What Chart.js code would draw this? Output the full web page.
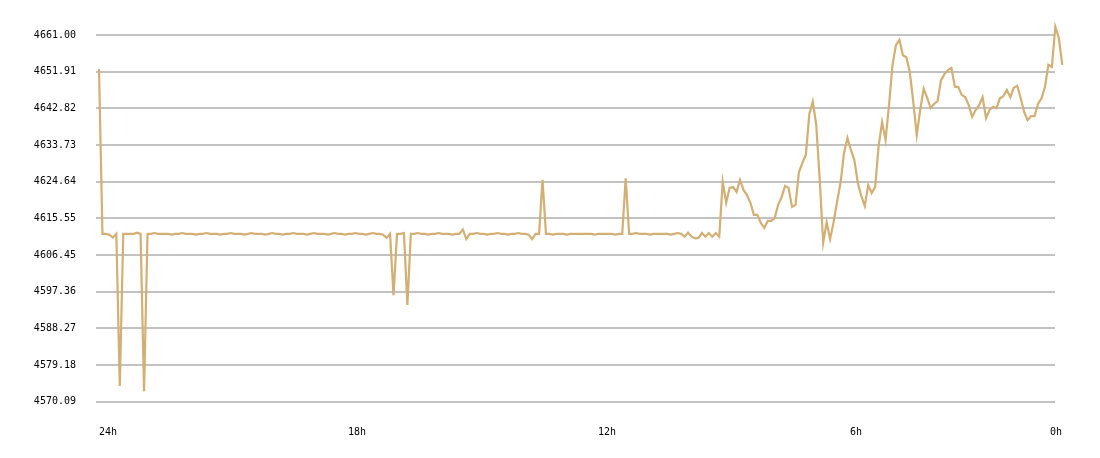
<!DOCTYPE html>
<html>
<head>
<meta charset="utf-8">
<script src="https://cdn.jsdelivr.net/npm/chart.js@4.4.1/dist/chart.umd.min.js"></script>
<style>
html,body{margin:0;padding:0;background:#fff;}
#wrap{width:1100px;height:458px;}
</style>
</head>
<body>
<div id="wrap"><canvas id="c" width="1100" height="458"></canvas></div>
<script>
// sample interval of the price series, in minutes
const INTERVAL_MIN = 5;

// price series (oldest first), one value every 5 minutes
const prices = [
4652.6,4611.7,4611.7,4611.5,4610.8,4611.7,4574.0,4611.7,4611.7,4611.7,
4611.7,4612.0,4611.7,4572.7,4611.7,4611.7,4611.9,4611.7,4611.7,4611.7,
4611.7,4611.5,4611.7,4611.7,4611.9,4611.7,4611.7,4611.7,4611.5,4611.7,
4611.7,4611.9,4611.7,4611.7,4611.7,4611.5,4611.7,4611.7,4611.9,4611.7,
4611.7,4611.7,4611.5,4611.7,4611.9,4611.7,4611.7,4611.7,4611.5,4611.7,
4611.9,4611.7,4611.7,4611.5,4611.7,4611.7,4611.9,4611.7,4611.7,4611.7,
4611.5,4611.7,4611.9,4611.7,4611.7,4611.7,4611.5,4611.7,4611.9,4611.7,
4611.7,4611.5,4611.7,4611.7,4611.9,4611.7,4611.7,4611.5,4611.7,4611.9,
4611.7,4611.7,4611.5,4610.7,4611.7,4596.5,4611.7,4611.7,4611.9,4594.1,
4611.7,4611.7,4611.9,4611.7,4611.7,4611.5,4611.7,4611.7,4611.9,4611.7,
4611.7,4611.7,4611.5,4611.7,4611.7,4612.8,4610.4,4611.7,4611.7,4611.9,
4611.7,4611.7,4611.5,4611.7,4611.7,4611.9,4611.7,4611.7,4611.5,4611.7,
4611.7,4611.9,4611.7,4611.7,4611.5,4610.4,4611.7,4611.7,4625.1,4611.7,
4611.7,4611.5,4611.7,4611.7,4611.7,4611.5,4611.7,4611.7,4611.7,4611.7,
4611.7,4611.7,4611.7,4611.5,4611.7,4611.7,4611.7,4611.7,4611.7,4611.5,
4611.7,4611.7,4625.5,4611.7,4611.7,4611.9,4611.7,4611.7,4611.7,4611.5,
4611.7,4611.7,4611.7,4611.7,4611.7,4611.5,4611.7,4611.9,4611.7,4611.0,
4612.0,4611.0,4610.6,4610.7,4611.9,4611.0,4611.9,4611.0,4611.9,4611.0,
4624.6,4619.4,4623.1,4623.3,4622.1,4625.1,4622.6,4621.3,4619.4,4616.4,
4616.4,4614.4,4613.2,4614.9,4614.9,4615.6,4618.9,4620.8,4623.6,4623.1,
4618.4,4618.9,4627.0,4629.3,4631.3,4641.4,4644.5,4638.7,4625.1,4609.5,
4614.6,4610.4,4614.6,4619.6,4624.3,4631.7,4635.5,4632.5,4630.0,4624.3,
4621.1,4618.6,4623.8,4621.8,4623.3,4633.5,4639.4,4635.0,4643.6,4653.6,
4658.5,4659.8,4656.0,4655.5,4651.8,4644.4,4636.2,4642.4,4647.7,4645.5,
4642.9,4643.9,4644.6,4649.8,4651.3,4652.3,4652.8,4648.2,4648.1,4646.1,
4645.6,4643.6,4640.7,4642.4,4643.6,4645.6,4640.4,4642.4,4643.2,4642.9,
4645.3,4645.8,4647.4,4645.6,4647.9,4648.4,4645.3,4641.9,4639.9,4640.9,
4640.9,4643.9,4645.3,4648.1,4653.6,4653.1,4663.0,4660.3,4653.6
];

// y axis tick values
const yTicks = [4570.09,4579.18,4588.27,4597.36,4606.45,4615.55,4624.64,4633.73,4642.82,4651.91,4661.00];
const yMin = 4570.09, yMax = 4661.00;

// x axis ticks (minutes from start of series) and labels
const xTickMinutes = [0, 360, 720, 1083];
const xTickLabels = ['24h', '18h', '12h', '6h'];
const endLabel = '0h';

// visible time window (minutes)
const xMin = -4.33, xMax = 1379.5;

const FONT = '"DejaVu Sans Mono", monospace';

const points = prices.map((p, i) => ({x: i * INTERVAL_MIN, y: p}));

const xLabelPlugin = {
  id: 'xLabels',
  afterDraw(chart) {
    const ctx = chart.ctx, xs = chart.scales.x;
    const y = chart.chartArea.bottom + 31;
    ctx.save();
    ctx.font = '10px ' + FONT;
    ctx.fillStyle = '#000';
    ctx.textBaseline = 'middle';
    ctx.textAlign = 'left';
    xTickMinutes.forEach((m, i) => ctx.fillText(xTickLabels[i], Math.round(xs.getPixelForValue(m)), y));
    ctx.textAlign = 'right';
    ctx.fillText(endLabel, Math.round(xs.getPixelForValue((prices.length - 1) * INTERVAL_MIN)), y);
    ctx.restore();
  }
};

new Chart(document.getElementById('c'), {
  type: 'line',
  data: {
    datasets: [{
      data: points,
      borderColor: '#d3af73',
      borderWidth: 2.2,
      pointRadius: 0,
      tension: 0,
      fill: false,
      clip: false
    }]
  },
  options: {
    responsive: false,
    animation: false,
    devicePixelRatio: 1,
    layout: {padding: {top: 35, right: 45, bottom: 0, left: 0}},
    plugins: {legend: {display: false}, tooltip: {enabled: false}},
    scales: {
      x: {
        type: 'linear',
        bounds: 'data',
        afterDataLimits(s) { s.min = xMin; s.max = xMax; },
        afterBuildTicks(s) { s.ticks = xTickMinutes.map(v => ({value: v})); },
        afterFit(s) { s.height = 56.3; },
        grid: {display: false},
        border: {display: false},
        ticks: {display: false}
      },
      y: {
        min: yMin,
        max: yMax,
        afterBuildTicks(s) { s.ticks = yTicks.map(v => ({value: v})); },
        afterFit(s) { s.width = 96; },
        grid: {color: '#c2c2c2', lineWidth: 2, drawTicks: false},
        border: {display: false},
        ticks: {
          padding: 20,
          color: '#000',
          font: {family: FONT, size: 10},
          callback: v => Number(v).toFixed(2)
        }
      }
    }
  },
  plugins: [xLabelPlugin]
});
</script>
</body>
</html>
